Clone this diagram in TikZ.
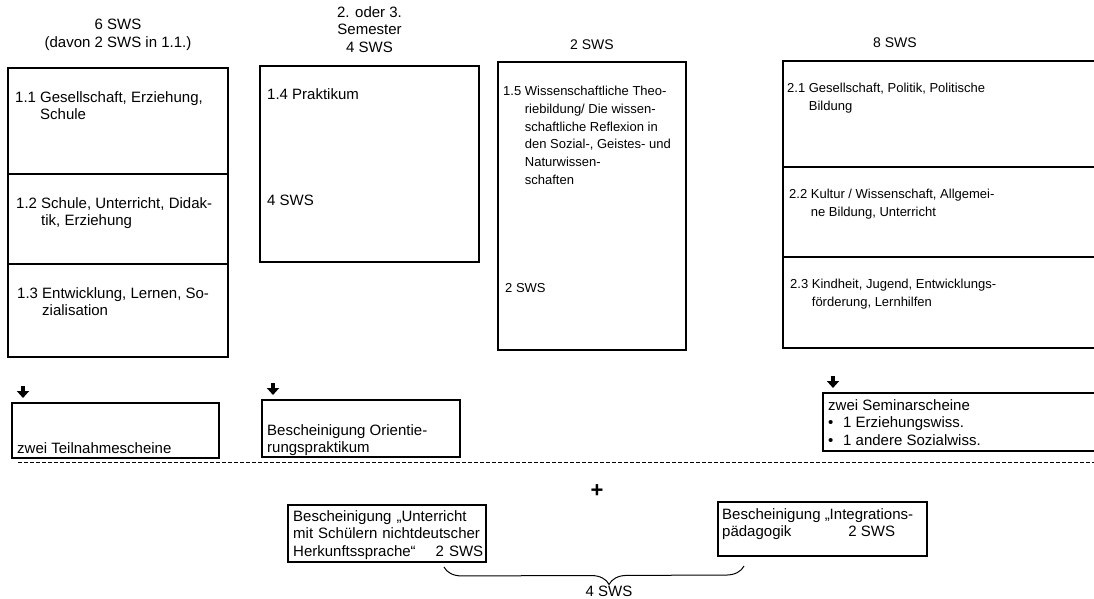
\documentclass[tikz,border=0pt]{standalone}
\usepackage{fontspec}
\setmainfont{Liberation Sans}
\usepackage{tikz}
\usetikzlibrary{positioning, arrows.meta, calc, decorations.pathreplacing}

\newcommand{\bigsz}{\fontsize{15}{17.7}\selectfont}
\newcommand{\smallsz}{\fontsize{13}{17.7}\selectfont}

\begin{document}
\begin{tikzpicture}[
        x=1pt, y=-1pt,
        cell/.style={draw, rectangle, line width=1.1pt, inner sep=0pt, outer sep=0pt, anchor=north west},
        txt/.style={inner sep=0pt, align=left, font=\bigsz},
        stxt/.style={inner sep=0pt, align=left, font=\smallsz},
        head/.style={inner sep=0pt, align=center, font=\bigsz},
        down/.style={-{Triangle[width=12pt, length=7pt]}, line width=3.5pt, shorten >=5pt}
    ]
    \useasboundingbox (0,0) rectangle (1094,599);

    % Block 1.1 - 1.3
    \node[cell, minimum width=220pt, minimum height=106pt] (s11) at (8,68) {};
    \node[cell, minimum width=220pt, minimum height=90pt, below=0pt of s11] (s12) {};
    \node[cell, minimum width=220pt, minimum height=93pt, below=0pt of s12] (s13) {};
    \node[head, above=17pt of s11] (h1) {6 SWS\\(davon 2 SWS in 1.1.)};
    \node[txt, below right=23pt and 7pt of s11.north west] (t11) {1.1 Gesellschaft, Erziehung,\\\hphantom{1.1\ }Schule};
    \node[txt, below right=23pt and 8pt of s12.north west] (t12) {1.2 Schule, Unterricht, Didak-\\\hphantom{1.2\ }tik, Erziehung};
    \node[txt, below right=23pt and 9pt of s13.north west] (t13) {1.3 Entwicklung, Lernen, So-\\\hphantom{1.3\ }zialisation};

    % Block 1.4
    \node[cell, minimum width=219pt, minimum height=196pt] (s14) at (260,66) {};
    \node[head, above=13pt of s14] (h2) {2. oder 3.\\Semester\\4 SWS};
    \node[txt, below right=22pt and 7pt of s14.north west] (t14) {1.4 Praktikum};
    \node[txt, below right=129pt and 7pt of s14.north west] (t14s) {4 SWS};

    % Block 1.5
    \node[cell, minimum width=188pt, minimum height=288pt] (s15) at (498,62) {};
    \node[head, font=\fontsize{14}{17}\selectfont, above=12pt of s15] (h3) {2 SWS};
    \node[stxt, below right=24pt and 5pt of s15.north west] (t15) {1.5 Wissenschaftliche Theo-\\\hphantom{1.5\ }riebildung/ Die wissen-\\\hphantom{1.5\ }schaftliche Reflexion in\\\hphantom{1.5\ }den Sozial-, Geistes- und\\\hphantom{1.5\ }Naturwissen-\\\hphantom{1.5\ }schaften};
    \node[stxt, below right=221pt and 7pt of s15.north west] (t15s) {2 SWS};

    % Block 2.1 - 2.3
    \node[cell, minimum width=312pt, minimum height=106pt] (s21) at (783,61) {};
    \node[cell, minimum width=312pt, minimum height=90pt, below=0pt of s21] (s22) {};
    \node[cell, minimum width=312pt, minimum height=91pt, below=0pt of s22] (s23) {};
    \node[head, font=\fontsize{14}{17}\selectfont, above right=13pt and 90pt of s21.north west] (h4) {8 SWS};
    \node[stxt, below right=22pt and 4pt of s21.north west] (t21) {2.1 Gesellschaft, Politik, Politische\\\hphantom{2.1\ }Bildung};
    \node[stxt, below right=22pt and 6pt of s22.north west] (t22) {2.2 Kultur / Wissenschaft, Allgemei-\\\hphantom{2.2\ }ne Bildung, Unterricht};
    \node[stxt, below right=22pt and 7pt of s23.north west] (t23) {2.3 Kindheit, Jugend, Entwicklungs-\\\hphantom{2.3\ }förderung, Lernhilfen};

    % Scheine
    \node[cell, minimum width=207pt, minimum height=55pt] (e1) at (12,403) {};
    \node[txt, above right=4pt and 5pt of e1.south west] (te1) {zwei Teilnahmescheine};
    \node[cell, minimum width=198pt, minimum height=57pt] (f1) at (262,400) {};
    \node[txt, below right=24pt and 5pt of f1.north west] (tf1) {Bescheinigung Orientie-\\rungspraktikum};
    \node[cell, minimum width=272pt, minimum height=58pt] (g1) at (823,393) {};
    \node[txt, below right=6pt and 5pt of g1.north west] (tg1) {zwei Seminarscheine\\\makebox[15pt][l]{\textbullet}1 Erziehungswiss.\\\makebox[15pt][l]{\textbullet}1 andere Sozialwiss.};

    \coordinate[above right=17pt and 11pt of e1.north west] (a1);
    \coordinate[above right=17pt and 11pt of f1.north west] (a2);
    \coordinate[above right=17pt and 10pt of g1.north west] (a3);
    \draw[down] (a1) -- (a1 |- e1.north);
    \draw[down] (a2) -- (a2 |- f1.north);
    \draw[down] (a3) -- (a3 |- g1.north);

    % Trennlinie
    \coordinate (l1) at (18,462);
    \coordinate (l2) at (1094,462);
    \draw[dashed, dash pattern=on 4pt off 2pt, line width=0.9pt] (l1) -- (l2);

    % Zusatz
    \node[inner sep=0pt, font=\fontsize{22}{22}\selectfont\bfseries] (plus) at (597,491) {+};
    \node[cell, minimum width=198pt, minimum height=57pt] (bh) at (288,505) {};
    \node[txt, text width=190pt, below right=5pt and 5pt of bh.north west] (tbh) {Bescheinigung „Unterricht\\mit Schülern nichtdeutscher\\Herkunftssprache“\hfill 2 SWS};
    \node[cell, minimum width=209pt, minimum height=54pt] (bi) at (718,502) {};
    \node[txt, below right=6pt and 4pt of bi.north west] (tbi) {Bescheinigung „Integrations-\\pädagogik\hspace{57pt}2 SWS};

    \coordinate[below left=5pt and 42pt of bh.south east] (bl);
    \coordinate[below right=10pt and 26pt of bi.south west] (br);
    \draw[decorate, decoration={brace, mirror, amplitude=18pt, aspect=0.55}, line width=1pt] (bl) -- node[head, pos=0.55, below=19pt] (sum) {4 SWS} (br);

\end{tikzpicture}
\end{document}
